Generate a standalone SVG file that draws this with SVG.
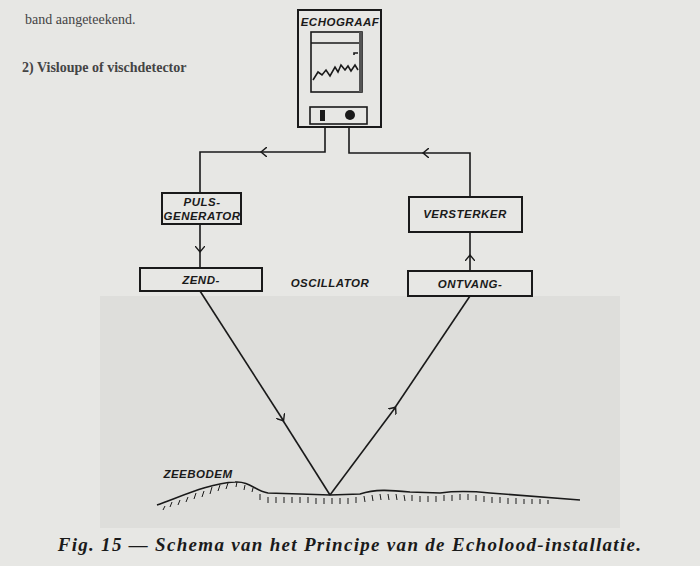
<svg xmlns="http://www.w3.org/2000/svg" width="700" height="566" viewBox="0 0 700 566">
<style>
.b{fill:none;stroke:#1a1a1a;stroke-width:2}
.l{fill:none;stroke:#1a1a1a;stroke-width:1.6}
.t{font-family:"Liberation Sans",sans-serif;font-style:italic;font-weight:bold;font-size:11.5px;fill:#1a1a1a;text-anchor:middle;letter-spacing:0.5px}
.h{stroke:#1a1a1a;stroke-width:1}
</style>
<defs>
<marker id="a" markerWidth="10" markerHeight="10" refX="5" refY="5" orient="auto" markerUnits="userSpaceOnUse"><path d="M0,0 L6,5 L0,10" fill="none" stroke="#1a1a1a" stroke-width="1.4"/></marker>
</defs>
<rect width="700" height="566" fill="#e7e7e4"/>
<rect x="100" y="296" width="520" height="232" fill="#dededb"/>
<text x="25" y="24" font-family="Liberation Serif,serif" font-size="14" fill="#444">band aangeteekend.</text>
<text x="22" y="72" font-family="Liberation Serif,serif" font-size="14" font-weight="bold" fill="#444">2) Visloupe of vischdetector</text>

<g id="echograaf">
<rect class="b" x="298" y="10" width="83" height="117" fill="#ececea"/>
<text class="t" x="340" y="26">ECHOGRAAF</text>
<rect class="l" x="311" y="32" width="51" height="60"/>
<line class="l" x1="311" y1="43" x2="360" y2="43"/>
<rect x="359" y="32" width="3" height="60" fill="#555"/>
<path class="l" d="M358,53 h-4 v2"/>
<path class="l" d="M313,80 L318,72 L322,75 L326,70 L330,76 L335,67 L338,72 L341,65 L345,70 L348,66 L351,71 L355,65 L358,70"/>
<rect class="l" x="310" y="107" width="57" height="17"/>
<rect x="320" y="110" width="5" height="11" fill="#1a1a1a"/>
<circle cx="350" cy="115" r="5" fill="#1a1a1a"/>
</g>
<g id="puls"><rect class="b" x="162" y="193" width="79" height="31"/><text class="t" x="202" y="206">PULS-</text><text class="t" x="202" y="220">GENERATOR</text></g>
<g id="zend"><rect class="b" x="140" y="268" width="122" height="23"/><text class="t" x="201" y="284">ZEND-</text></g>
<g id="osc"><text class="t" x="330" y="287">OSCILLATOR</text></g>
<g id="versterker"><rect class="b" x="409" y="197" width="113" height="35"/><text class="t" x="465" y="218">VERSTERKER</text></g>
<g id="ontvang"><rect class="b" x="408" y="271" width="124" height="25"/><text class="t" x="470" y="288">ONTVANG-</text></g>
<g id="connectors">
<path class="l" d="M325,127 V152 H262"/><path class="l" d="M262,152 H200 V193" marker-start="url(#a)"/>
<path class="l" d="M349,127 V153 H425"/><path class="l" d="M470,197 V153 H424" marker-end="url(#a)"/>
<path class="l" d="M200,224 V251" marker-end="url(#a)"/><path class="l" d="M200,250 V268"/>
<path class="l" d="M470,271 V256" marker-end="url(#a)"/><path class="l" d="M470,257 V232"/>
<path class="l" d="M200,291 L283,420" marker-end="url(#a)"/><path class="l" d="M282,419 L330,495"/>
<path class="l" d="M330,495 L395,408" marker-end="url(#a)"/><path class="l" d="M394,409 L470,296"/>
</g>
<g id="zeebodem">
<text class="t" x="198" y="478" font-style="normal">ZEEBODEM</text>
<path class="l" d="M157,505 C180,497 210,483 235,482 C250,481 255,491 268,493 L300,494 L330,495 L360,494 C375,489 390,490 410,492 L440,493 C455,491 470,491 490,493 L580,500"/>
<path class="h" d="M163,510 l2,-4 M170,507 l2,-5 M178,505 l2,-5 M186,502 l2,-5 M194,499 l2,-6 M202,497 l2,-6 M210,494 l2,-7 M218,491 l2,-6 M226,489 l2,-6 M236,487 l1,-5 M244,490 l1,-5 M252,492 l1,-4 M260,494 l0,6 M268,497 l0,6 M276,497 l0,6 M284,497 l0,6 M292,497 l0,6 M300,497 l0,6 M308,497 l0,6 M316,498 l0,6 M324,498 l0,6 M332,498 l0,6 M340,498 l0,6 M348,498 l0,6 M356,497 l0,6 M364,496 l1,6 M372,495 l1,6 M380,494 l1,6 M388,494 l1,6 M396,494 l1,6 M404,495 l1,6 M412,495 l0,6 M420,496 l0,6 M428,496 l0,6 M436,496 l0,6 M444,495 l0,6 M452,495 l0,6 M460,494 l0,6 M468,494 l0,6 M476,495 l0,6 M484,496 l0,6 M492,497 l0,6 M500,497 l0,6 M508,498 l0,6 M516,498 l0,6 M524,499 l0,5 M532,499 l0,5 M540,499 l0,5 M548,500 l0,4"/>
</g>
<text x="350" y="551" font-family="Liberation Serif,serif" font-style="italic" font-weight="bold" font-size="19" letter-spacing="1.3" fill="#1a1a1a" text-anchor="middle">Fig. 15 — Schema van het Principe van de Echolood-installatie.</text>
</svg>
